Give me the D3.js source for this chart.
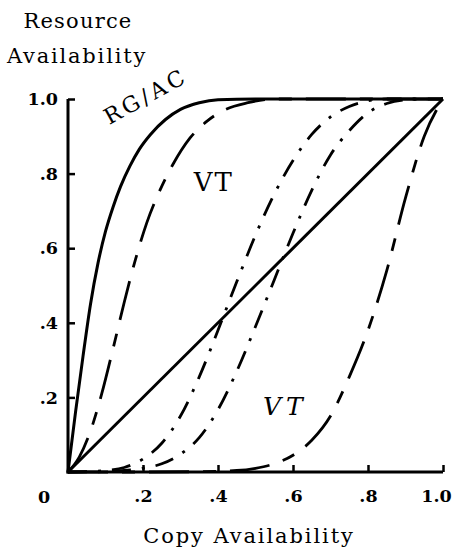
<!DOCTYPE html>
<html>
<head>
<meta charset="utf-8">
<script src="https://cdn.jsdelivr.net/npm/d3@7"></script>
<style>
  html, body { margin: 0; padding: 0; background: #fff; }
  svg { display: block; }
  text { font-family: "DejaVu Serif", "Liberation Serif", serif; fill: #000; }
</style>
</head>
<body>
<svg id="chart" width="457" height="557"></svg>
<script>
// ---- data ----
const xTickValues = [0.2, 0.4, 0.6, 0.8, 1.0];
const xTickLabels = [".2", ".4", ".6", ".8", "1.0"];
const yTickValues = [0.2, 0.4, 0.6, 0.8, 1.0];
const yTickLabels = [".2", ".4", ".6", ".8", "1.0"];
const originLabel = "0";
const yTitleLines = ["Resource", "Availability"];
const xTitle = "Copy Availability";

// RG/AC (solid, steep saturating curve)
const rgacX = [0, 0.02, 0.04, 0.06, 0.08, 0.10, 0.12, 0.14, 0.165, 0.19, 0.22, 0.26, 0.30, 0.35, 0.40, 0.50, 0.70, 1.0];
const rgacY = [0, 0.16, 0.31, 0.45, 0.56, 0.645, 0.71, 0.765, 0.82, 0.865, 0.905, 0.945, 0.972, 0.99, 0.998, 1, 1, 1];

// VT upper (long-short dash)
const vtUpX = [0, 0.03, 0.06, 0.09, 0.12, 0.15, 0.18, 0.21, 0.245, 0.28, 0.325, 0.37, 0.42, 0.48, 0.55, 0.70, 1.0];
const vtUpY = [0, 0.04, 0.11, 0.21, 0.33, 0.455, 0.57, 0.668, 0.755, 0.825, 0.895, 0.94, 0.972, 0.99, 1, 1, 1];

// dash-dot, left (crosses diagonal near .42)
const ddLeftX = [0, 0.05, 0.10, 0.15, 0.20, 0.25, 0.30, 0.35, 0.40, 0.45, 0.50, 0.55, 0.60, 0.65, 0.70, 0.75, 0.80, 0.85, 1.0];
const ddLeftY = [0, 0.001, 0.004, 0.012, 0.035, 0.077, 0.15, 0.255, 0.38, 0.51, 0.635, 0.745, 0.835, 0.905, 0.952, 0.98, 0.995, 1, 1];

// dash-dot, right (crosses diagonal near .57)
const ddRightX = [0, 0.10, 0.15, 0.20, 0.25, 0.30, 0.35, 0.40, 0.45, 0.50, 0.55, 0.60, 0.65, 0.70, 0.75, 0.80, 0.85, 0.90, 0.95, 1.0];
const ddRightY = [0, 0.001, 0.004, 0.01, 0.022, 0.048, 0.092, 0.167, 0.27, 0.39, 0.515, 0.64, 0.755, 0.85, 0.915, 0.963, 0.988, 0.998, 1, 1];

// VT lower (long-short dash)
const vtLowX = [0, 0.2, 0.35, 0.45, 0.50, 0.55, 0.60, 0.65, 0.70, 0.75, 0.80, 0.85, 0.90, 0.95, 1.0];
const vtLowY = [0, 0, 0.001, 0.004, 0.01, 0.022, 0.045, 0.085, 0.15, 0.255, 0.38, 0.54, 0.735, 0.9, 1];

// diagonal (solid)
const diagX = [0, 1];
const diagY = [0, 1];

const curveLabels = [
  { text: "RG/AC", x: 0.11, y: 0.93, rot: -29, style: "normal", size: 22, spacing: 3.5 },
  { text: "VT", x: 0.335, y: 0.754, rot: 0, style: "normal", size: 26, spacing: 2 },
  { text: "VT", x: 0.52, y: 0.153, rot: 0, style: "italic", size: 25, spacing: 5 }
];

// ---- drawing ----
const svg = d3.select("#chart");
const x = d3.scaleLinear().domain([0, 1]).range([68, 443]);
const y = d3.scaleLinear().domain([0, 1]).range([472, 99]);

const line = d3.line().x(d => x(d[0])).y(d => y(d[1])).curve(d3.curveMonotoneX);
const zip = (a, b) => a.map((v, i) => [v, b[i]]);

const series = [
  { xs: diagX, ys: diagY, dash: null, w: 3 },
  { xs: rgacX, ys: rgacY, dash: null, w: 3 },
  { xs: vtUpX, ys: vtUpY, dash: "40,14,13,14", w: 2.8 },
  { xs: ddLeftX, ys: ddLeftY, dash: "19,11,3,11", w: 2.8 },
  { xs: ddRightX, ys: ddRightY, dash: "19,11,3,11", w: 2.8 },
  { xs: vtLowX, ys: vtLowY, dash: "40,14,13,14", w: 2.8 }
];

svg.append("g").selectAll("path").data(series).join("path")
  .attr("d", s => line(zip(s.xs, s.ys)))
  .attr("fill", "none")
  .attr("stroke", "#000")
  .attr("stroke-width", s => s.w)
  .attr("stroke-dasharray", s => s.dash)
  .attr("stroke-linecap", "butt");

// axes
const xAxis = d3.axisBottom(x)
  .tickValues(xTickValues)
  .tickFormat((d, i) => xTickLabels[i])
  .tickSizeInner(-7).tickSizeOuter(0).tickPadding(18);
const yAxis = d3.axisLeft(y)
  .tickValues(yTickValues)
  .tickFormat((d, i) => yTickLabels[i])
  .tickSizeInner(-7).tickSizeOuter(0).tickPadding(10);

const gx = svg.append("g").attr("transform", `translate(0,${y(0)})`).call(xAxis);
const gy = svg.append("g").attr("transform", `translate(${x(0)},0)`).call(yAxis);

[gx, gy].forEach(g => {
  g.select(".domain").attr("stroke", "#000").attr("stroke-width", 3);
  g.selectAll(".tick line").attr("stroke", "#000").attr("stroke-width", 2.5);
  g.selectAll(".tick text")
    .attr("font-family", "DejaVu Serif")
    .attr("font-size", 17.5)
    .attr("font-weight", "bold")
    .attr("fill", "#000");
});
// last x label sits slightly left of its tick, as in the reference
gx.selectAll(".tick text").filter((d, i) => i === xTickValues.length - 1).attr("dx", -7);
// extend domain lines to meet at the corner
gx.select(".domain").attr("d", `M${x(0) - 1.5},0H${x(1)}`);
gy.select(".domain").attr("d", `M0,${y(0) + 1.5}V${y(1)}`);

svg.append("text")
  .attr("x", 44).attr("y", 503)
  .attr("text-anchor", "middle")
  .attr("font-size", 17.5).attr("font-weight", "bold")
  .text(originLabel);

// titles
svg.append("text").attr("x", 78).attr("y", 28).attr("text-anchor", "middle")
  .attr("font-size", 21).attr("letter-spacing", 1.2).text(yTitleLines[0]);
svg.append("text").attr("x", 77).attr("y", 63).attr("text-anchor", "middle")
  .attr("font-size", 21).attr("letter-spacing", 1.8).text(yTitleLines[1]);
svg.append("text").attr("x", 249).attr("y", 543).attr("text-anchor", "middle")
  .attr("font-size", 21).attr("letter-spacing", 1.9).text(xTitle);

// curve labels
svg.append("g").selectAll("text").data(curveLabels).join("text")
  .attr("transform", d => `translate(${x(d.x)},${y(d.y)}) rotate(${d.rot})`)
  .attr("font-size", d => d.size)
  .attr("font-style", d => d.style)
  .attr("letter-spacing", d => d.spacing)
  .text(d => d.text);
</script>
</body>
</html>
